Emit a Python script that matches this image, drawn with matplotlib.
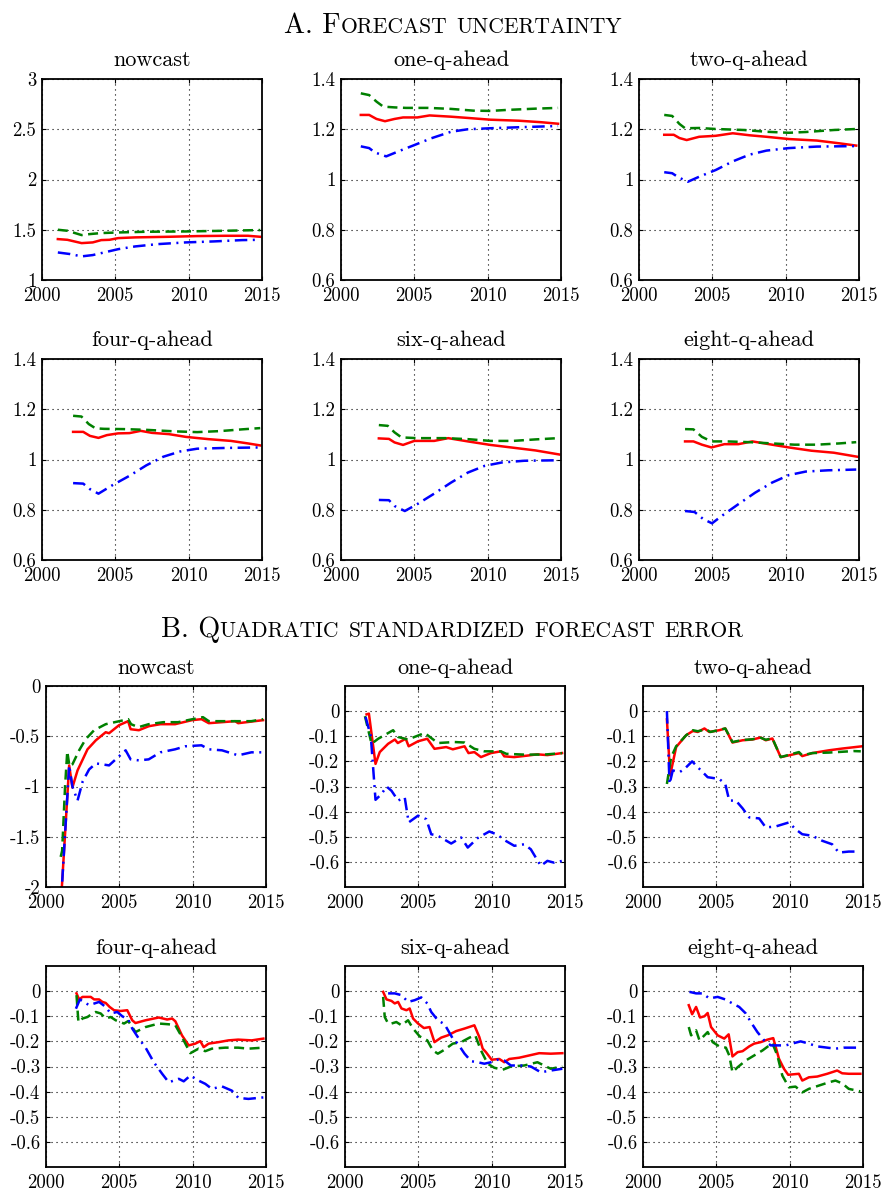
import matplotlib
matplotlib.use("Agg")
import matplotlib.pyplot as plt
from matplotlib.ticker import FuncFormatter

plt.rcParams['font.family'] = ['cmr10', 'DejaVu Serif']
plt.rcParams['axes.formatter.use_mathtext'] = True

# ---------------- data: A. forecast uncertainty ----------------
titles = ["nowcast", "one-q-ahead", "two-q-ahead", "four-q-ahead", "six-q-ahead", "eight-q-ahead"]
years_ticks = [2000, 2005, 2010, 2015]

a_now_red_x = [2001.08, 2001.73, 2002.7, 2003.46, 2004.04, 2004.6, 2005.2, 2006.35, 2008.65, 2010.58, 2012.5, 2014.04, 2014.88]
a_now_red_y = [1.407, 1.40, 1.367, 1.374, 1.397, 1.40, 1.417, 1.424, 1.43, 1.437, 1.44, 1.44, 1.43]
a_now_grn_x = [2001.08, 2001.73, 2002.7, 2003.27, 2004.04, 2005.2, 2007.1, 2009.8, 2012.5, 2014.88]
a_now_grn_y = [1.50, 1.49, 1.447, 1.457, 1.467, 1.473, 1.48, 1.483, 1.49, 1.497]
a_now_blu_x = [2001.08, 2001.92, 2002.7, 2003.46, 2004.23, 2005.2, 2006.35, 2007.88, 2009.8, 2011.73, 2013.65, 2014.88]
a_now_blu_y = [1.274, 1.258, 1.235, 1.248, 1.274, 1.307, 1.334, 1.357, 1.374, 1.384, 1.397, 1.40]

a_one_red_x = [2001.35, 2001.92, 2002.42, 2003.0, 2003.65, 2004.23, 2005.2, 2006.04, 2007.5, 2008.65, 2010.19, 2012.12, 2013.65, 2014.8]
a_one_red_y = [1.257, 1.257, 1.241, 1.232, 1.241, 1.247, 1.247, 1.255, 1.25, 1.245, 1.238, 1.234, 1.228, 1.222]
a_one_grn_x = [2001.35, 2001.92, 2002.42, 2002.88, 2003.65, 2004.42, 2005.96, 2007.5, 2009.04, 2010.19, 2011.35, 2013.27, 2014.8]
a_one_grn_y = [1.343, 1.336, 1.31, 1.29, 1.287, 1.285, 1.285, 1.281, 1.274, 1.273, 1.277, 1.282, 1.285]
a_one_blu_x = [2001.35, 2001.92, 2002.3, 2003.08, 2004.04, 2005.0, 2006.15, 2007.5, 2008.65, 2010.19, 2012.12, 2014.8]
a_one_blu_y = [1.132, 1.125, 1.108, 1.092, 1.115, 1.137, 1.164, 1.19, 1.20, 1.204, 1.208, 1.213]

a_two_red_x = [2001.72, 2002.37, 2002.76, 2003.25, 2004.1, 2005.24, 2006.39, 2007.54, 2008.69, 2010.22, 2012.13, 2013.66, 2014.81]
a_two_red_y = [1.178, 1.178, 1.165, 1.157, 1.17, 1.174, 1.184, 1.176, 1.17, 1.161, 1.155, 1.144, 1.135]
a_two_grn_x = [2001.72, 2002.26, 2002.76, 2003.14, 2004.1, 2005.24, 2007.16, 2008.69, 2010.22, 2011.37, 2013.28, 2014.81]
a_two_grn_y = [1.257, 1.253, 1.221, 1.204, 1.205, 1.201, 1.197, 1.19, 1.186, 1.189, 1.197, 1.201]
a_two_blu_x = [2001.72, 2002.26, 2002.68, 2003.33, 2004.1, 2005.24, 2006.39, 2007.54, 2008.69, 2010.22, 2012.13, 2014.81]
a_two_blu_y = [1.029, 1.025, 1.009, 0.991, 1.011, 1.038, 1.072, 1.099, 1.115, 1.125, 1.131, 1.133]

a_four_red_x = [2002.12, 2002.81, 2003.27, 2003.85, 2004.42, 2005.19, 2005.96, 2006.73, 2007.5, 2008.65, 2009.81, 2011.35, 2012.88, 2014.04, 2014.88]
a_four_red_y = [1.110, 1.110, 1.094, 1.086, 1.097, 1.104, 1.105, 1.114, 1.106, 1.101, 1.09, 1.081, 1.074, 1.064, 1.056]
a_four_grn_x = [2002.12, 2002.69, 2003.19, 2003.65, 2004.23, 2005.58, 2007.12, 2009.04, 2010.58, 2012.12, 2013.65, 2014.88]
a_four_grn_y = [1.174, 1.171, 1.141, 1.124, 1.122, 1.121, 1.118, 1.112, 1.109, 1.113, 1.12, 1.125]
a_four_blu_x = [2002.12, 2002.81, 2003.27, 2003.85, 2004.81, 2005.96, 2007.12, 2008.27, 2009.42, 2010.58, 2012.5, 2014.88]
a_four_blu_y = [0.906, 0.904, 0.882, 0.864, 0.898, 0.935, 0.977, 1.011, 1.032, 1.043, 1.046, 1.048]

a_six_red_x = [2002.58, 2003.27, 2003.65, 2004.23, 2005.0, 2006.35, 2007.31, 2008.65, 2010.19, 2011.73, 2013.27, 2014.88]
a_six_red_y = [1.084, 1.082, 1.068, 1.058, 1.074, 1.074, 1.085, 1.072, 1.058, 1.047, 1.036, 1.02]
a_six_grn_x = [2002.58, 2003.19, 2003.65, 2004.12, 2005.19, 2007.12, 2008.65, 2010.19, 2011.73, 2013.27, 2014.81]
a_six_grn_y = [1.137, 1.134, 1.108, 1.088, 1.085, 1.085, 1.081, 1.074, 1.074, 1.08, 1.085]
a_six_blu_x = [2002.58, 2003.27, 2003.65, 2004.35, 2005.19, 2006.35, 2007.5, 2008.65, 2009.81, 2010.96, 2012.5, 2014.88]
a_six_blu_y = [0.839, 0.838, 0.815, 0.795, 0.822, 0.864, 0.908, 0.948, 0.975, 0.988, 0.995, 0.997]

a_eight_red_x = [2003.14, 2003.71, 2004.29, 2004.94, 2005.82, 2006.77, 2007.73, 2009.07, 2010.22, 2011.75, 2013.28, 2014.89]
a_eight_red_y = [1.072, 1.072, 1.059, 1.048, 1.061, 1.061, 1.072, 1.059, 1.048, 1.035, 1.027, 1.011]
a_eight_grn_x = [2003.14, 2003.71, 2004.29, 2004.94, 2006.0, 2007.54, 2009.07, 2010.6, 2012.13, 2013.66, 2014.81]
a_eight_grn_y = [1.121, 1.12, 1.09, 1.072, 1.072, 1.069, 1.064, 1.059, 1.059, 1.064, 1.069]
a_eight_blu_x = [2003.14, 2003.79, 2004.4, 2004.98, 2005.63, 2006.77, 2007.92, 2009.07, 2010.22, 2011.37, 2012.9, 2014.81]
a_eight_blu_y = [0.795, 0.791, 0.762, 0.746, 0.775, 0.822, 0.868, 0.908, 0.938, 0.952, 0.957, 0.96]

# ---------------- data: B. quadratic standardized forecast error ----------------
b_now_red_x = [2001.0, 2001.58, 2001.8, 2002.15, 2002.83, 2003.4, 2004.07, 2004.3, 2004.98, 2005.6, 2005.77, 2006.33, 2007.01, 2007.8, 2008.8, 2009.95, 2010.6, 2011.1, 2012.9, 2013.1, 2014.8]
b_now_red_y = [-2.2, -0.79, -1.01, -0.84, -0.63, -0.54, -0.46, -0.47, -0.39, -0.35, -0.43, -0.44, -0.40, -0.38, -0.38, -0.34, -0.33, -0.37, -0.35, -0.37, -0.34]
b_now_grn_x = [2001.0, 2001.1, 2001.3, 2001.45, 2001.6, 2001.8, 2002.26, 2002.7, 2003.28, 2004.07, 2005.0, 2005.6, 2005.8, 2006.3, 2007.0, 2008.0, 2009.0, 2010.0, 2010.7, 2011.1, 2012.0, 2013.0, 2014.0, 2014.8]
b_now_grn_y = [-1.7, -1.64, -1.0, -0.65, -0.8, -0.78, -0.64, -0.53, -0.44, -0.38, -0.35, -0.33, -0.38, -0.41, -0.38, -0.36, -0.36, -0.33, -0.31, -0.35, -0.35, -0.35, -0.35, -0.33]
b_now_blu_x = [2001.0, 2001.58, 2001.8, 2002.15, 2002.5, 2002.94, 2003.4, 2004.3, 2004.75, 2005.43, 2005.77, 2006.33, 2007.0, 2007.8, 2008.8, 2009.5, 2010.6, 2011.1, 2012.0, 2013.1, 2014.0, 2014.8]
b_now_blu_y = [-2.2, -0.79, -1.0, -1.14, -0.95, -0.83, -0.77, -0.79, -0.73, -0.64, -0.73, -0.74, -0.73, -0.66, -0.63, -0.60, -0.59, -0.63, -0.64, -0.69, -0.66, -0.66]

b_one_red_x = [2001.47, 2001.63, 2002.08, 2002.37, 2002.94, 2003.4, 2003.6, 2004.14, 2004.34, 2004.98, 2005.61, 2006.1, 2006.9, 2007.35, 2008.15, 2008.42, 2008.82, 2009.27, 2009.95, 2010.63, 2010.86, 2011.54, 2012.44, 2013.1, 2013.8, 2014.8]
b_one_red_y = [-0.013, -0.01, -0.21, -0.163, -0.13, -0.113, -0.127, -0.11, -0.14, -0.12, -0.11, -0.15, -0.143, -0.152, -0.14, -0.167, -0.163, -0.183, -0.167, -0.16, -0.18, -0.183, -0.177, -0.172, -0.175, -0.167]
b_one_grn_x = [2001.36, 2001.81, 2002.26, 2003.28, 2003.62, 2004.3, 2004.64, 2005.43, 2006.33, 2007.46, 2008.15, 2008.82, 2009.5, 2010.63, 2011.0, 2012.2, 2013.58, 2014.8]
b_one_grn_y = [-0.02, -0.13, -0.11, -0.076, -0.103, -0.113, -0.105, -0.087, -0.127, -0.123, -0.125, -0.15, -0.16, -0.16, -0.17, -0.173, -0.173, -0.167]
b_one_blu_x = [2001.4, 2001.76, 2002.08, 2002.49, 2002.83, 2003.17, 2003.62, 2004.07, 2004.34, 2004.98, 2005.54, 2005.88, 2006.33, 2007.24, 2007.92, 2008.37, 2009.05, 2009.84, 2010.4, 2010.86, 2011.54, 2012.22, 2012.67, 2013.35, 2013.8, 2014.25, 2014.82]
b_one_blu_y = [-0.023, -0.10, -0.353, -0.33, -0.30, -0.317, -0.356, -0.343, -0.443, -0.416, -0.43, -0.49, -0.496, -0.527, -0.503, -0.543, -0.505, -0.479, -0.492, -0.513, -0.536, -0.53, -0.55, -0.616, -0.596, -0.603, -0.596]

b_two_red_x = [2001.63, 2001.85, 2002.26, 2002.94, 2003.4, 2003.73, 2004.19, 2004.52, 2005.2, 2005.61, 2006.1, 2006.79, 2007.46, 2008.03, 2008.37, 2008.82, 2009.39, 2009.95, 2010.63, 2010.86, 2011.54, 2012.67, 2013.58, 2014.93]
b_two_red_y = [-0.033, -0.256, -0.143, -0.096, -0.079, -0.083, -0.069, -0.083, -0.076, -0.069, -0.125, -0.116, -0.113, -0.105, -0.116, -0.109, -0.183, -0.176, -0.167, -0.179, -0.167, -0.156, -0.149, -0.14]
b_two_grn_x = [2001.63, 2001.92, 2002.26, 2002.94, 2003.4, 2003.73, 2004.3, 2004.6, 2005.61, 2006.1, 2006.79, 2007.46, 2008.03, 2008.37, 2008.82, 2009.39, 2010.63, 2010.86, 2011.54, 2012.67, 2014.36, 2014.85]
b_two_grn_y = [-0.29, -0.183, -0.14, -0.096, -0.076, -0.08, -0.073, -0.083, -0.069, -0.123, -0.115, -0.112, -0.106, -0.114, -0.108, -0.183, -0.163, -0.176, -0.167, -0.165, -0.159, -0.16]
b_two_blu_x = [2001.63, 2001.81, 2002.03, 2002.49, 2002.83, 2003.35, 2003.85, 2004.41, 2005.2, 2005.61, 2005.88, 2006.33, 2006.79, 2007.24, 2007.92, 2008.37, 2009.05, 2009.95, 2010.4, 2010.86, 2011.54, 2012.22, 2012.9, 2013.35, 2014.03, 2014.6]
b_two_blu_y = [0.0, -0.29, -0.236, -0.243, -0.23, -0.20, -0.23, -0.263, -0.27, -0.29, -0.356, -0.356, -0.387, -0.423, -0.427, -0.463, -0.459, -0.443, -0.47, -0.49, -0.496, -0.516, -0.53, -0.563, -0.559, -0.559]

b_four_red_x = [2002.08, 2002.26, 2002.49, 2003.05, 2003.28, 2003.62, 2003.85, 2004.07, 2004.34, 2004.64, 2005.09, 2005.54, 2005.88, 2006.1, 2006.79, 2007.69, 2008.26, 2008.6, 2008.82, 2009.27, 2009.73, 2010.18, 2010.52, 2010.75, 2011.09, 2011.77, 2012.44, 2013.1, 2014.03, 2014.82]
b_four_red_y = [-0.009, -0.033, -0.023, -0.023, -0.033, -0.033, -0.043, -0.047, -0.063, -0.076, -0.079, -0.076, -0.116, -0.127, -0.116, -0.105, -0.113, -0.109, -0.12, -0.176, -0.216, -0.209, -0.199, -0.223, -0.209, -0.203, -0.196, -0.193, -0.196, -0.189]
b_four_grn_x = [2002.08, 2002.21, 2002.49, 2002.83, 2003.17, 2003.39, 2003.73, 2004.07, 2004.41, 2004.75, 2005.32, 2005.61, 2006.1, 2006.79, 2007.69, 2008.37, 2008.82, 2009.27, 2009.84, 2010.4, 2010.86, 2011.31, 2012.22, 2013.1, 2013.8, 2014.82]
b_four_grn_y = [-0.016, -0.123, -0.109, -0.103, -0.089, -0.083, -0.089, -0.109, -0.103, -0.116, -0.129, -0.119, -0.163, -0.143, -0.129, -0.132, -0.136, -0.183, -0.247, -0.229, -0.239, -0.229, -0.225, -0.225, -0.229, -0.225]
b_four_blu_x = [2002.04, 2002.31, 2002.94, 2003.62, 2004.07, 2004.41, 2004.86, 2005.2, 2005.61, 2005.88, 2006.33, 2006.79, 2007.35, 2007.92, 2008.37, 2009.05, 2009.39, 2009.84, 2010.4, 2010.86, 2011.31, 2011.99, 2012.67, 2013.12, 2013.8, 2014.82]
b_four_blu_y = [-0.07, -0.033, -0.056, -0.043, -0.063, -0.089, -0.083, -0.1, -0.113, -0.149, -0.189, -0.225, -0.283, -0.329, -0.363, -0.349, -0.359, -0.336, -0.356, -0.369, -0.389, -0.379, -0.396, -0.425, -0.429, -0.423]

b_six_red_x = [2002.6, 2002.83, 2003.17, 2003.39, 2003.62, 2003.85, 2004.19, 2004.41, 2004.64, 2004.98, 2005.38, 2005.77, 2006.1, 2006.56, 2007.01, 2007.58, 2008.15, 2008.82, 2009.16, 2009.39, 2009.61, 2010.0, 2010.52, 2010.86, 2011.2, 2011.88, 2012.56, 2013.24, 2014.03, 2014.82]
b_six_red_y = [-0.003, -0.033, -0.039, -0.049, -0.043, -0.069, -0.076, -0.069, -0.109, -0.129, -0.147, -0.143, -0.203, -0.185, -0.176, -0.159, -0.149, -0.136, -0.183, -0.229, -0.243, -0.273, -0.27, -0.283, -0.27, -0.265, -0.256, -0.247, -0.249, -0.247]
b_six_grn_x = [2002.6, 2002.71, 2002.94, 2003.17, 2003.5, 2003.85, 2004.3, 2004.64, 2005.09, 2005.61, 2005.99, 2006.33, 2006.79, 2007.35, 2007.92, 2008.49, 2008.88, 2009.27, 2009.73, 2010.18, 2010.75, 2011.31, 2012.22, 2013.12, 2014.03, 2014.82]
b_six_grn_y = [-0.023, -0.103, -0.129, -0.129, -0.123, -0.136, -0.116, -0.149, -0.18, -0.196, -0.236, -0.249, -0.233, -0.209, -0.203, -0.185, -0.176, -0.236, -0.289, -0.305, -0.313, -0.3, -0.296, -0.283, -0.309, -0.30]
b_six_blu_x = [2002.94, 2003.39, 2003.85, 2004.3, 2004.75, 2005.2, 2005.61, 2005.88, 2006.33, 2006.79, 2007.35, 2007.69, 2008.15, 2008.6, 2009.05, 2009.5, 2009.95, 2010.4, 2010.86, 2011.31, 2011.99, 2012.67, 2013.35, 2014.03, 2014.82]
b_six_blu_y = [-0.009, -0.009, -0.016, -0.043, -0.036, -0.025, -0.049, -0.083, -0.116, -0.132, -0.189, -0.209, -0.249, -0.279, -0.283, -0.289, -0.283, -0.273, -0.276, -0.296, -0.296, -0.30, -0.323, -0.316, -0.309]

b_eight_red_x = [2003.12, 2003.35, 2003.62, 2003.89, 2004.19, 2004.41, 2004.64, 2005.09, 2005.54, 2005.84, 2006.1, 2006.45, 2006.79, 2007.24, 2007.58, 2008.03, 2008.49, 2008.88, 2009.27, 2009.61, 2009.9, 2010.63, 2010.86, 2011.31, 2011.88, 2012.56, 2013.24, 2013.58, 2014.03, 2014.82]
b_eight_red_y = [-0.056, -0.092, -0.063, -0.105, -0.1, -0.087, -0.143, -0.176, -0.189, -0.172, -0.26, -0.243, -0.239, -0.22, -0.209, -0.203, -0.193, -0.187, -0.269, -0.309, -0.333, -0.329, -0.356, -0.343, -0.34, -0.329, -0.316, -0.327, -0.329, -0.329]
b_eight_grn_x = [2003.12, 2003.28, 2003.62, 2003.85, 2004.19, 2004.41, 2004.75, 2005.2, 2005.65, 2005.88, 2006.1, 2006.45, 2007.01, 2007.58, 2008.15, 2008.82, 2009.16, 2009.5, 2009.95, 2010.4, 2010.86, 2011.31, 2011.99, 2012.67, 2013.12, 2013.58, 2014.03, 2014.82]
b_eight_grn_y = [-0.143, -0.176, -0.156, -0.196, -0.176, -0.163, -0.203, -0.22, -0.225, -0.256, -0.323, -0.303, -0.276, -0.256, -0.236, -0.207, -0.256, -0.336, -0.383, -0.38, -0.403, -0.389, -0.376, -0.363, -0.356, -0.367, -0.389, -0.399]
b_eight_blu_x = [2003.17, 2003.62, 2004.07, 2004.52, 2005.09, 2005.61, 2006.1, 2006.56, 2007.01, 2007.35, 2007.8, 2008.26, 2008.71, 2009.27, 2009.73, 2010.29, 2010.75, 2011.31, 2011.88, 2012.56, 2013.12, 2013.69, 2014.25, 2014.82]
b_eight_blu_y = [-0.003, -0.009, -0.009, -0.029, -0.023, -0.033, -0.049, -0.063, -0.089, -0.123, -0.163, -0.196, -0.216, -0.216, -0.216, -0.207, -0.2, -0.209, -0.22, -0.225, -0.229, -0.225, -0.225, -0.225]

a_series = [
    [(a_now_red_x, a_now_red_y), (a_now_grn_x, a_now_grn_y), (a_now_blu_x, a_now_blu_y)],
    [(a_one_red_x, a_one_red_y), (a_one_grn_x, a_one_grn_y), (a_one_blu_x, a_one_blu_y)],
    [(a_two_red_x, a_two_red_y), (a_two_grn_x, a_two_grn_y), (a_two_blu_x, a_two_blu_y)],
    [(a_four_red_x, a_four_red_y), (a_four_grn_x, a_four_grn_y), (a_four_blu_x, a_four_blu_y)],
    [(a_six_red_x, a_six_red_y), (a_six_grn_x, a_six_grn_y), (a_six_blu_x, a_six_blu_y)],
    [(a_eight_red_x, a_eight_red_y), (a_eight_grn_x, a_eight_grn_y), (a_eight_blu_x, a_eight_blu_y)],
]
b_series = [
    [(b_now_red_x, b_now_red_y), (b_now_grn_x, b_now_grn_y), (b_now_blu_x, b_now_blu_y)],
    [(b_one_red_x, b_one_red_y), (b_one_grn_x, b_one_grn_y), (b_one_blu_x, b_one_blu_y)],
    [(b_two_red_x, b_two_red_y), (b_two_grn_x, b_two_grn_y), (b_two_blu_x, b_two_blu_y)],
    [(b_four_red_x, b_four_red_y), (b_four_grn_x, b_four_grn_y), (b_four_blu_x, b_four_blu_y)],
    [(b_six_red_x, b_six_red_y), (b_six_grn_x, b_six_grn_y), (b_six_blu_x, b_six_blu_y)],
    [(b_eight_red_x, b_eight_red_y), (b_eight_grn_x, b_eight_grn_y), (b_eight_blu_x, b_eight_blu_y)],
]

a_yticks_now = [1, 1.5, 2, 2.5, 3]
a_yticks = [0.6, 0.8, 1, 1.2, 1.4]
b_yticks_now = [-2, -1.5, -1, -0.5, 0]
b_yticks = [-0.6, -0.5, -0.4, -0.3, -0.2, -0.1, 0]

# ---------------- figure ----------------
W, H = 883, 1190
fig = plt.figure(figsize=(W / 100, H / 100), dpi=100)

styles = [dict(color='#ff0000', lw=1.8, ls='-'),
          dict(color='#008000', lw=1.8, dashes=(4, 2.2)),
          dict(color='#0000ff', lw=1.8, dashes=(5, 2.2, 0.8, 2.2))]

def make_ax(left, top, w=220, h=201):
    return fig.add_axes([left / W, 1 - (top + h) / H, w / W, h / H])

fmt = FuncFormatter(lambda v, p: ('%g' % round(v, 6)))

def style_ax(ax, title, ylim, yticks):
    ax.set_xlim(2000, 2015)
    ax.set_ylim(*ylim)
    ax.set_xticks(years_ticks)
    ax.set_yticks(yticks)
    ax.yaxis.set_major_formatter(fmt)
    ax.xaxis.set_major_formatter(FuncFormatter(lambda v, p: '%d' % v))
    ax.grid(True, color='black', linestyle=(0, (1, 3.5)), linewidth=0.8)
    ax.tick_params(direction='in', length=3, width=0.8, labelsize=13.5,
                   top=True, right=True)
    ax.tick_params(axis='x', pad=5)
    ax.tick_params(axis='y', pad=4)
    for s in ax.spines.values():
        s.set_linewidth(1.3)
    ax.set_title(title, fontsize=16, pad=9)

a_lefts = [42, 341, 639]
b_lefts = [46, 345, 643]
a_tops = [79, 359]
b_tops = [686, 966]

for i in range(6):
    r, c = divmod(i, 3)
    ax = make_ax(a_lefts[c], a_tops[r])
    for (xs, ys), st in zip(a_series[i], styles):
        ax.plot(xs, ys, **st)
    if i == 0:
        style_ax(ax, titles[i], (1, 3), a_yticks_now)
    else:
        style_ax(ax, titles[i], (0.6, 1.4), a_yticks)

for i in range(6):
    r, c = divmod(i, 3)
    ax = make_ax(b_lefts[c], b_tops[r])
    for (xs, ys), st in zip(b_series[i], styles):
        ax.plot(xs, ys, **st)
    if i == 0:
        style_ax(ax, titles[i], (-2, 0), b_yticks_now)
    else:
        style_ax(ax, titles[i], (-0.7, 0.1), b_yticks)

# small-caps section titles
renderer = fig.canvas.get_renderer()

def smallcaps(text, xc_px, base_px, big=20.3, small=15.5):
    runs = []
    for ch in text:
        if ch.isalpha() and ch.islower():
            key, s = small, ch.upper()
        else:
            key, s = big, ch
        if runs and runs[-1][0] == key:
            runs[-1][1] += s
        else:
            runs.append([key, s])
    objs = []
    total = 0
    for size, s in runs:
        t = fig.text(0, 1 - base_px / H, s, fontsize=size, va='baseline', ha='left')
        wpx = t.get_window_extent(renderer=renderer).width
        objs.append((t, wpx))
        total += wpx
    x = xc_px - total / 2
    for t, wpx in objs:
        t.set_x(x / W)
        x += wpx

smallcaps("A. Forecast uncertainty", 453, 33)
smallcaps("B. Quadratic standardized forecast error", 452, 637)

fig.savefig("out.png", dpi=100)
